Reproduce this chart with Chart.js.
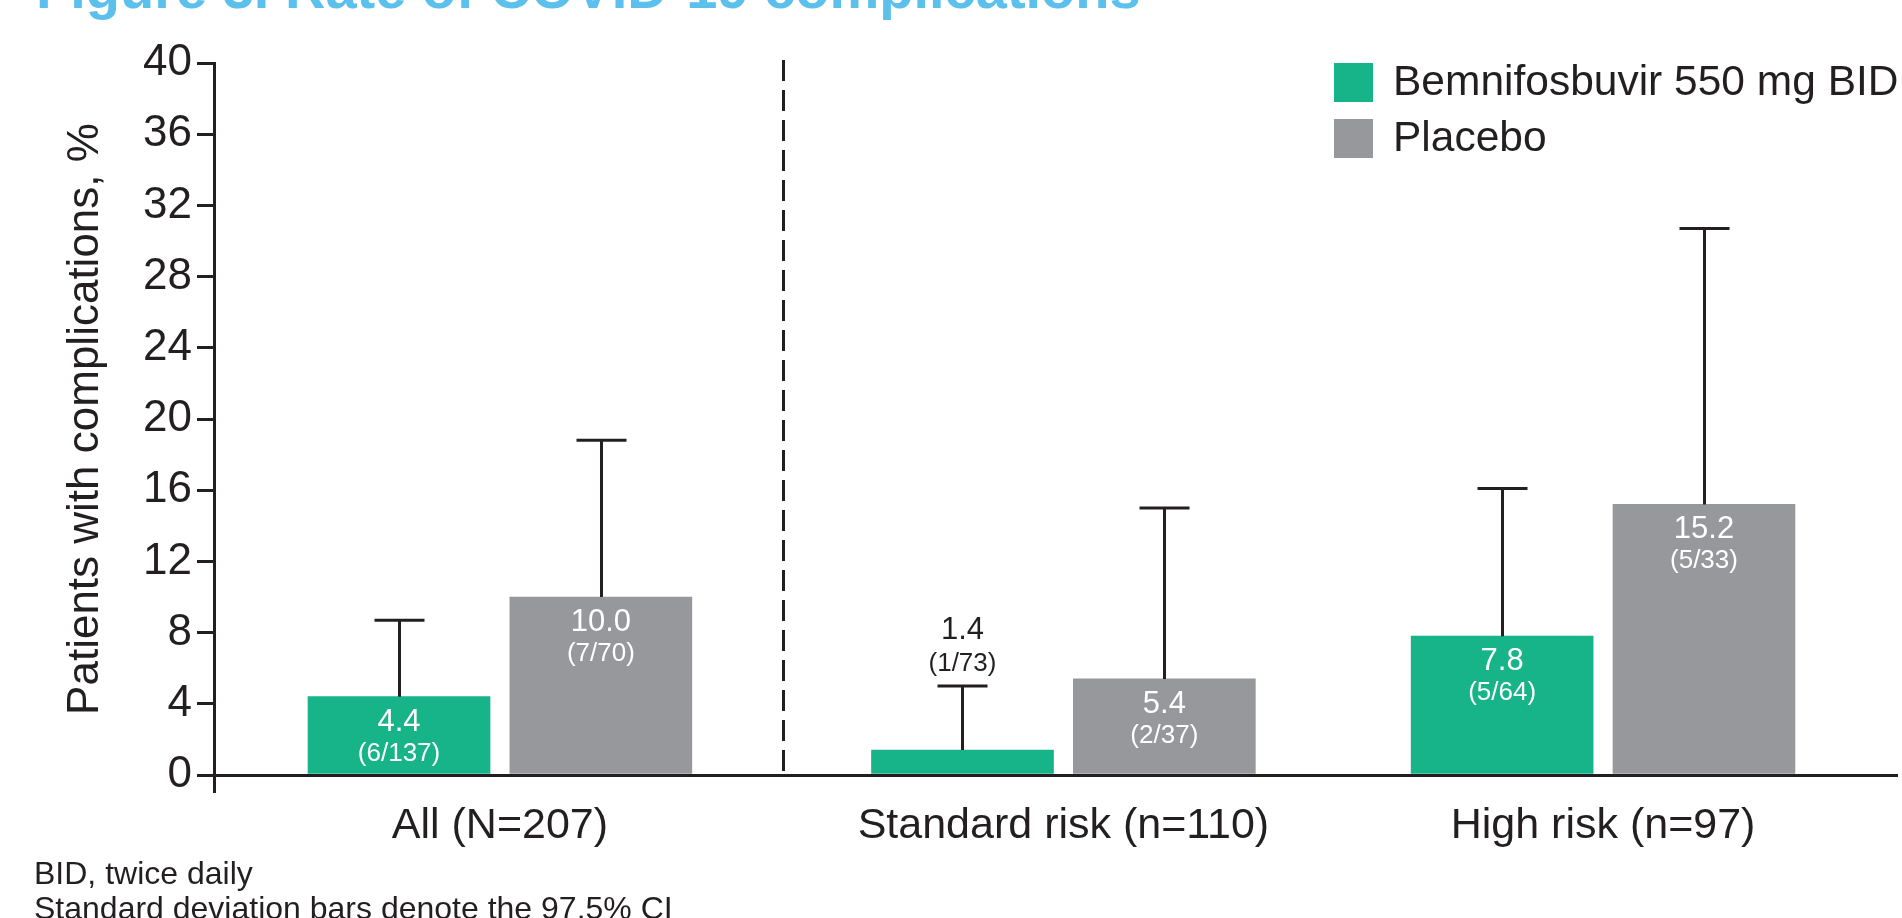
<!DOCTYPE html>
<html>
<head>
<meta charset="utf-8">
<title>Rate of COVID-19 complications</title>
<script src="https://cdn.jsdelivr.net/npm/chart.js@4.4.1/dist/chart.umd.min.js"></script>
<style>
  html, body { margin: 0; padding: 0; background: #ffffff; overflow: hidden; }
  #wrap { position: relative; width: 1902px; height: 918px; }
  canvas { display: block; }
</style>
</head>
<body>
<div id="wrap"><canvas id="chart" width="1902" height="918"></canvas></div>
<script>
// ---- data ----
const categories = ['All (N=207)', 'Standard risk (n=110)', 'High risk (n=97)'];
const seriesNames = ['Bemnifosbuvir 550 mg BID', 'Placebo'];
const drugRate = [4.4, 1.4, 7.8];
const placeboRate = [10.0, 5.4, 15.2];
const drugUpperCI = [8.7, 5.0, 16.1];
const placeboUpperCI = [18.8, 15.0, 30.7];
const drugEvents = [6, 1, 5];
const drugTotals = [137, 73, 64];
const placeboEvents = [7, 2, 5];
const placeboTotals = [70, 37, 33];
const yTickValues = [0, 4, 8, 12, 16, 20, 24, 28, 32, 36, 40];
const titleText = 'Figure 3. Rate of COVID-19 complications';
const yAxisTitle = 'Patients with complications, %';
const footnotes = ['BID, twice daily', 'Standard deviation bars denote the 97.5% CI'];

// ---- layout on the horizontal axis (axis units) ----
const groupPos = [1.02, 3.03, 4.955];
const pairOffset = 0.36;
const dividerPos = 2.03;

// ---- styles ----
const GREEN = '#17B389';
const GREY = '#97989C';
const INK = '#231F20';
const TITLE_BLUE = '#5BC0EB';
const FONT = '"Liberation Sans", Arial, Helvetica, sans-serif';

Chart.defaults.font.family = FONT;
Chart.defaults.color = INK;

// upper confidence limit whiskers with caps
const ciBars = {
  id: 'ciBars',
  afterDatasetsDraw(chart) {
    const { ctx } = chart;
    const y = chart.scales.y;
    ctx.save();
    ctx.strokeStyle = INK;
    ctx.lineWidth = 3;
    chart.data.datasets.forEach((ds, di) => {
      chart.getDatasetMeta(di).data.forEach((bar, i) => {
        const yc = y.getPixelForValue(ds.ciUpper[i]);
        const x = Math.round(bar.x) + 0.5;
        ctx.beginPath();
        ctx.moveTo(x, bar.y);
        ctx.lineTo(x, yc);
        ctx.moveTo(x - 25, yc);
        ctx.lineTo(x + 25, yc);
        ctx.stroke();
      });
    });
    ctx.restore();
  }
};

// percentage and n/N labels
const barLabels = {
  id: 'barLabels',
  afterDatasetsDraw(chart) {
    const { ctx } = chart;
    const y = chart.scales.y;
    ctx.save();
    ctx.textAlign = 'center';
    ctx.textBaseline = 'alphabetic';
    chart.data.datasets.forEach((ds, di) => {
      chart.getDatasetMeta(di).data.forEach((bar, i) => {
        const value = ds.data[i].y.toFixed(1);
        const frac = '(' + ds.events[i] + '/' + ds.totals[i] + ')';
        const inside = (bar.base - bar.y) > 60;
        let vy, fy;
        if (inside) {
          ctx.fillStyle = '#FFFFFF';
          vy = bar.y + 34;
          fy = bar.y + 64;
        } else {
          const yc = y.getPixelForValue(ds.ciUpper[i]);
          ctx.fillStyle = INK;
          vy = yc - 47;
          fy = yc - 15;
        }
        ctx.font = '31px ' + FONT;
        ctx.fillText(value, bar.x, vy);
        ctx.font = '26px ' + FONT;
        ctx.fillText(frac, bar.x, fy);
      });
    });
    ctx.restore();
  }
};

// dashed separator, axis foot, legend, title and footnotes
const decorations = {
  id: 'decorations',
  beforeDatasetsDraw(chart) {
    const { ctx } = chart;
    const x = chart.scales.x, y = chart.scales.y;
    const px = Math.round(x.getPixelForValue(dividerPos)) + 0.5;
    ctx.save();
    ctx.strokeStyle = INK;
    ctx.lineWidth = 3;
    ctx.setLineDash([21, 9]);
    ctx.beginPath();
    ctx.moveTo(px, y.getPixelForValue(40) - 3);
    ctx.lineTo(px, y.getPixelForValue(0));
    ctx.stroke();
    ctx.restore();
  },
  afterDraw(chart) {
    const { ctx, chartArea } = chart;
    ctx.save();
    // y axis continues below the baseline
    ctx.strokeStyle = INK;
    ctx.lineWidth = 3;
    const ax = Math.round(chartArea.left - 1.5) + 1.5;
    ctx.beginPath();
    ctx.moveTo(ax, chartArea.bottom);
    ctx.lineTo(ax, chartArea.bottom + 18);
    ctx.stroke();

    // legend
    const lg = { left: 1334, top: 63, size: 39, rowGap: 56, textGap: 20 };
    ctx.textAlign = 'left';
    ctx.textBaseline = 'middle';
    ctx.font = '42.5px ' + FONT;
    chart.data.datasets.forEach((ds, i) => {
      const top = lg.top + i * lg.rowGap;
      ctx.fillStyle = ds.backgroundColor;
      ctx.fillRect(lg.left, top, lg.size, lg.size);
      ctx.fillStyle = INK;
      ctx.fillText(ds.label, lg.left + lg.size + lg.textGap, top + lg.size / 2 + 1);
    });

    // heading
    ctx.textBaseline = 'alphabetic';
    ctx.fillStyle = TITLE_BLUE;
    ctx.font = 'bold 56px ' + FONT;
    ctx.fillText(titleText, 36, 8);

    // footnotes
    ctx.fillStyle = INK;
    ctx.font = '32px ' + FONT;
    footnotes.forEach((t, i) => ctx.fillText(t, 34, 884 + i * 35));
    ctx.restore();
  }
};

const ctx = document.getElementById('chart').getContext('2d');
new Chart(ctx, {
  type: 'bar',
  data: {
    datasets: [
      {
        label: seriesNames[0],
        data: groupPos.map((p, i) => ({ x: p - pairOffset, y: drugRate[i] })),
        backgroundColor: GREEN,
        ciUpper: drugUpperCI,
        events: drugEvents,
        totals: drugTotals,
        grouped: false,
        barThickness: 182,
        borderWidth: 0
      },
      {
        label: seriesNames[1],
        data: groupPos.map((p, i) => ({ x: p + pairOffset, y: placeboRate[i] })),
        backgroundColor: GREY,
        ciUpper: placeboUpperCI,
        events: placeboEvents,
        totals: placeboTotals,
        grouped: false,
        barThickness: 182,
        borderWidth: 0
      }
    ]
  },
  options: {
    responsive: false,
    maintainAspectRatio: false,
    devicePixelRatio: 1,
    animation: false,
    layout: { padding: { top: 63, right: 6, left: 0, bottom: 0 } },
    plugins: {
      legend: { display: false },
      tooltip: { enabled: false },
      title: { display: false }
    },
    scales: {
      x: {
        type: 'linear',
        min: 0,
        max: 6,
        offset: false,
        afterBuildTicks(scale) {
          scale.ticks = groupPos.map(v => ({ value: v }));
        },
        afterFit(scale) { scale.height = 143; },
        grid: { display: true, drawOnChartArea: false, drawTicks: false, offset: false, color: INK, lineWidth: 3 },
        border: { display: true, color: INK, width: 3 },
        ticks: {
          autoSkip: false,
          maxRotation: 0,
          minRotation: 0,
          padding: 25,
          color: INK,
          font: { size: 43 },
          callback: (value, index) => categories[index]
        }
      },
      y: {
        min: 0,
        max: 40,
        afterBuildTicks(scale) {
          scale.ticks = yTickValues.map(v => ({ value: v }));
        },
        afterFit(scale) { scale.width = 214; },
        grid: { display: true, drawOnChartArea: false, drawTicks: true, tickLength: 17, color: INK, lineWidth: 3 },
        border: { display: true, color: INK, width: 3 },
        ticks: {
          padding: 5,
          color: INK,
          font: { size: 44 },
          callback: v => String(v)
        },
        title: {
          display: true,
          text: yAxisTitle,
          color: INK,
          font: { size: 44 },
          padding: { top: 59, bottom: 0 }
        }
      }
    }
  },
  plugins: [decorations, ciBars, barLabels]
});
</script>
</body>
</html>
